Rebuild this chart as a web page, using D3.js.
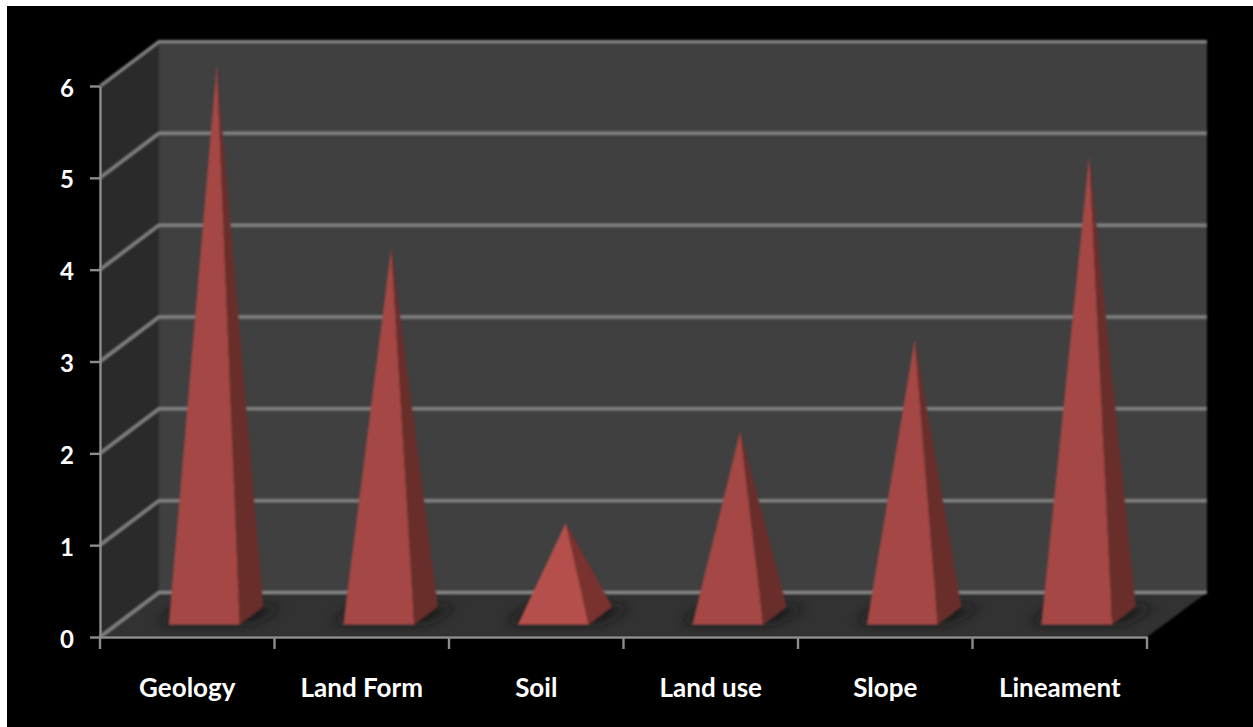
<!DOCTYPE html>
<html>
<head>
<meta charset="utf-8">
<style>
html,body{margin:0;padding:0;background:#fff;overflow:hidden}
svg{display:block}
text{font-family:Lato,sans-serif;font-weight:700;fill:#fff}
</style>
<script src="https://cdn.jsdelivr.net/npm/d3@7"></script>
</head>
<body>
<svg id="chart" width="1253" height="727"></svg>
<script>
const categories = ["Geology", "Land Form", "Soil", "Land use", "Slope", "Lineament"];
const values = [6, 4, 1, 2, 3, 5];
const yTicks = [0, 1, 2, 3, 4, 5, 6];

// Oblique projection of the chart box: how far the back wall sits from the front plane
const depthX = 59, depthY = -44.5;
const halfW = 35.5, apexDrop = 0;

const x = d3.scaleBand().domain(categories).range([100, 1147]);
const y = d3.scaleLinear().domain([0, 6]).range([637, 86]);

const svg = d3.select("#chart");
const defs = svg.append("defs");
defs.append("filter").attr("id", "soft").attr("x", "-50%").attr("y", "-100%").attr("width", "200%").attr("height", "300%")
  .append("feGaussianBlur").attr("stdDeviation", 6);
defs.append("filter").attr("id", "edge")
  .append("feGaussianBlur").attr("stdDeviation", 0.8);

svg.append("rect").attr("x", 7).attr("y", 6).attr("width", 1246).attr("height", 721).attr("fill", "#000");

const line = d3.line();
const x0 = x.range()[0], x1 = x.range()[1];
const base = y(0), top6 = y(6);

// Back wall, side wall and floor of the box
const box = svg.append("g").attr("filter", "url(#edge)");
box.append("path").attr("fill", "#404040")
  .attr("d", line([[x0 + depthX, top6 + depthY], [x1 + depthX + 1, top6 + depthY], [x1 + depthX + 1, base + depthY], [x0 + depthX, base + depthY]]) + "Z");
box.append("path").attr("fill", "#2a2a2a")
  .attr("d", line([[x0, top6], [x0 + depthX, top6 + depthY], [x0 + depthX, base + depthY], [x0, base]]) + "Z");
box.append("path").attr("fill", "#333333")
  .attr("d", line([[x0, base], [x0 + depthX, base + depthY], [x1 + depthX + 1, base + depthY], [x1, base]]) + "Z");

// Gridlines run along the side wall and across the back wall
box.append("g").selectAll("path").data(yTicks).join("path")
  .attr("fill", "none").attr("stroke", "#858585").attr("stroke-width", 3)
  .attr("d", d => line([[x0, y(d)], [x0 + depthX, y(d) + depthY], [x1 + depthX + 1, y(d) + depthY]]));

// Shadows cast on the floor beneath each pyramid
const pyramids = svg.append("g");
const cx = d => x(d) + x.bandwidth() / 2 + depthX / 2;
const floorY = base + depthY / 2 + 1;

pyramids.append("g").selectAll("path").data(categories).join("path")
  .attr("fill", "#141414").attr("opacity", 0.85).attr("filter", "url(#soft)")
  .attr("d", d => line([
    [cx(d) - halfW - 24, floorY + 7],
    [cx(d) + halfW, floorY + 7],
    [cx(d) + halfW + 30, floorY - 9],
    [cx(d) - halfW, floorY - 9]
  ]) + "Z");

// Each pyramid is a lit front face and a darker right face rising to the value's height
const groups = pyramids.append("g").attr("filter", "url(#edge)")
  .selectAll("g").data(categories).join("g");

groups.append("path")
  .attr("fill", (d, i) => values[i] === 1 ? "#b5504c" : "#a54644")
  .attr("d", (d, i) => line([
    [cx(d) - halfW - 12.5, floorY + 9],
    [cx(d) + halfW - 12.5, floorY + 9],
    [cx(d), y(values[i]) + depthY / 2 + apexDrop]
  ]) + "Z");

groups.append("path")
  .attr("fill", (d, i) => values[i] === 1 ? "#7a302d" : "#6b2d2b")
  .attr("d", (d, i) => line([
    [cx(d) + halfW - 12.5, floorY + 9],
    [cx(d) + halfW + 11, floorY - 9],
    [cx(d), y(values[i]) + depthY / 2 + apexDrop]
  ]) + "Z");

// Axes
const yAxis = d3.axisLeft(y).tickValues(yTicks).tickSize(10).tickPadding(16).tickSizeOuter(0).tickFormat(d3.format("d"));
const yG = svg.append("g").attr("transform", `translate(${x0},0)`).call(yAxis);
yG.selectAll(".domain,line").attr("stroke", "#8c8c8c").attr("stroke-width", 2.4);
yG.selectAll("text").attr("font-size", 24).attr("dy", "0.42em").attr("fill", "#fff");

const xAxis = d3.axisBottom(x).tickSize(0).tickPadding(51);
const xG = svg.append("g").attr("transform", `translate(0,${base})`).call(xAxis);
xG.select(".domain").attr("stroke", "#8c8c8c").attr("stroke-width", 2.4);
xG.selectAll("text").attr("font-size", 26).attr("dy", "0.35em").attr("fill", "#fff");

// Tick marks sit on the category boundaries rather than their centres
svg.append("g").selectAll("line").data(categories.map(d => x(d)).concat(x1)).join("line")
  .attr("x1", d => d).attr("x2", d => d)
  .attr("y1", base).attr("y2", base + 12)
  .attr("stroke", "#8c8c8c").attr("stroke-width", 2.4);
</script>
</body>
</html>
